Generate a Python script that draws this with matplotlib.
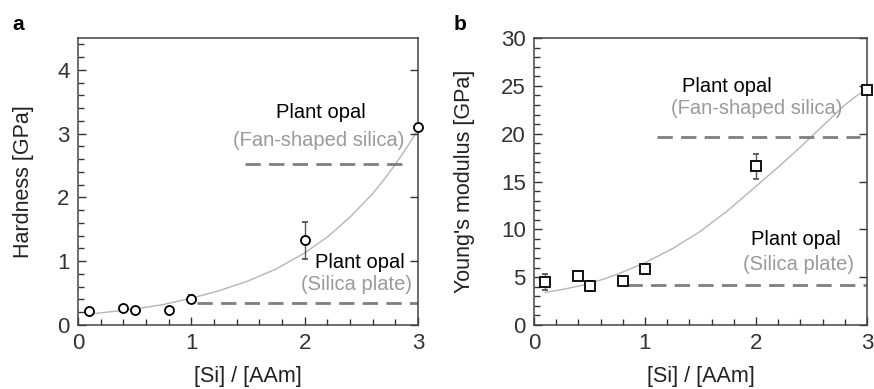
import matplotlib.pyplot as plt
from matplotlib.ticker import MultipleLocator

plt.rcParams['font.family'] = ['Liberation Sans', 'DejaVu Sans']

# data
si_ratio = [0.1, 0.4, 0.5, 0.8, 1.0, 2.0, 3.0]
hardness = [0.22, 0.26, 0.24, 0.23, 0.41, 1.33, 3.11]
hardness_err = [0.04, 0.03, 0.03, 0.03, 0.06, 0.29, 0.03]
modulus = [4.5, 5.1, 4.1, 4.6, 5.9, 16.6, 24.6]
modulus_err = [0.8, 0.4, 0.5, 0.2, 0.2, 1.3, 0.2]

# fitted curves
fit_x = [0.1, 0.25, 0.5, 0.75, 1.0, 1.25, 1.5, 1.75, 2.0, 2.2, 2.4,
         2.6, 2.7, 2.8, 2.9, 3.0]
hardness_fit = [0.17, 0.20, 0.25, 0.32, 0.42, 0.54, 0.69, 0.88, 1.13, 1.38, 1.69,
                2.06, 2.28, 2.52, 2.78, 3.06]
modulus_fit = [3.4, 3.7, 4.3, 5.3, 6.5, 8.0, 9.8, 12.0, 14.5, 16.5, 18.6,
               20.8, 21.9, 23.0, 23.9, 24.7]

# plant opal reference levels: (value, x start, x end)
hard_fan = (2.52, 1.47, 2.89)
hard_plate = (0.35, 1.05, 3.0)
mod_fan = (19.6, 1.11, 2.94)
mod_plate = (4.2, 0.84, 3.0)

W, H = 874, 389
fig = plt.figure(figsize=(W / 100, H / 100), dpi=100)

ax1 = fig.add_axes([78 / W, 1 - 325 / H, 340 / W, 287 / H])
ax2 = fig.add_axes([534 / W, 1 - 325 / H, 333 / W, 287 / H])

dash_col = '#7f7f7f'
fit_col = '#b5b5b5'
grey_txt = '#9a9a9a'
dash = (0, (5.5, 3))


def style(ax, ymax, ymaj, ymin):
    ax.set_xlim(0, 3)
    ax.set_ylim(0, ymax)
    ax.xaxis.set_major_locator(MultipleLocator(1))
    ax.xaxis.set_minor_locator(MultipleLocator(0.2))
    ax.yaxis.set_major_locator(MultipleLocator(ymaj))
    ax.yaxis.set_minor_locator(MultipleLocator(ymin))
    ax.tick_params(which='both', direction='in', right=True, top=False,
                   colors='#333333', labelsize=16)
    ax.tick_params(which='major', length=6, width=1, pad=6)
    ax.tick_params(which='minor', length=4, width=1, right=False)
    for s in ax.spines.values():
        s.set_color('#444444')
        s.set_linewidth(1.1)
    ax.set_xlabel('[Si] / [AAm]', fontsize=15.5, color='#222222', va='center')
    ax.xaxis.set_label_coords(0.5, -0.18)


# panel a
ax1.plot(fit_x, hardness_fit, color=fit_col, lw=1, zorder=1)
ax1.hlines(hard_fan[0], hard_fan[1], hard_fan[2], colors=dash_col, lw=2, linestyles=dash)
ax1.hlines(hard_plate[0], hard_plate[1], hard_plate[2], colors=dash_col, lw=2, linestyles=dash)
ax1.errorbar(si_ratio, hardness, yerr=hardness_err, fmt='o', ms=6.5, mfc='white',
             mec='black', mew=1.3, ecolor='#555555', elinewidth=1, capsize=2,
             clip_on=False, zorder=3)
style(ax1, 4.5, 1, 0.2)
ax1.set_ylabel('Hardness [GPa]', fontsize=15.5, color='#222222', va='center')
ax1.yaxis.set_label_coords(-0.16, 0.5)
ax1.text(2.14, 3.33, 'Plant opal', fontsize=14.5, ha='center', va='center', color='black')
ax1.text(2.12, 2.89, '(Fan-shaped silica)', fontsize=14.5, ha='center', va='center', color=grey_txt)
ax1.text(2.49, 0.98, 'Plant opal', fontsize=14.5, ha='center', va='center', color='black')
ax1.text(2.46, 0.64, '(Silica plate)', fontsize=14.5, ha='center', va='center', color=grey_txt)

# panel b
ax2.plot(fit_x, modulus_fit, color=fit_col, lw=1, zorder=1)
ax2.hlines(mod_fan[0], mod_fan[1], mod_fan[2], colors=dash_col, lw=2, linestyles=dash)
ax2.hlines(mod_plate[0], mod_plate[1], mod_plate[2], colors=dash_col, lw=2, linestyles=dash)
ax2.errorbar(si_ratio, modulus, yerr=modulus_err, fmt='s', ms=6.5, mfc='white',
             mec='black', mew=1.3, ecolor='#555555', elinewidth=1, capsize=2,
             clip_on=False, zorder=3)
style(ax2, 30, 5, 1)
ax2.set_ylabel("Young's modulus [GPa]", fontsize=15.5, color='#222222', va='center')
ax2.yaxis.set_label_coords(-0.21, 0.5)
ax2.text(1.74, 24.9, 'Plant opal', fontsize=14.5, ha='center', va='center', color='black')
ax2.text(2.01, 22.6, '(Fan-shaped silica)', fontsize=14.5, ha='center', va='center', color=grey_txt)
ax2.text(2.36, 8.9, 'Plant opal', fontsize=14.5, ha='center', va='center', color='black')
ax2.text(2.38, 6.3, '(Silica plate)', fontsize=14.5, ha='center', va='center', color=grey_txt)

fig.text(12 / W, 1 - 25 / H, 'a', fontsize=15, fontweight='bold', va='center')
fig.text(454 / W, 1 - 25 / H, 'b', fontsize=15, fontweight='bold', va='center')

fig.savefig('out.png', dpi=100)
